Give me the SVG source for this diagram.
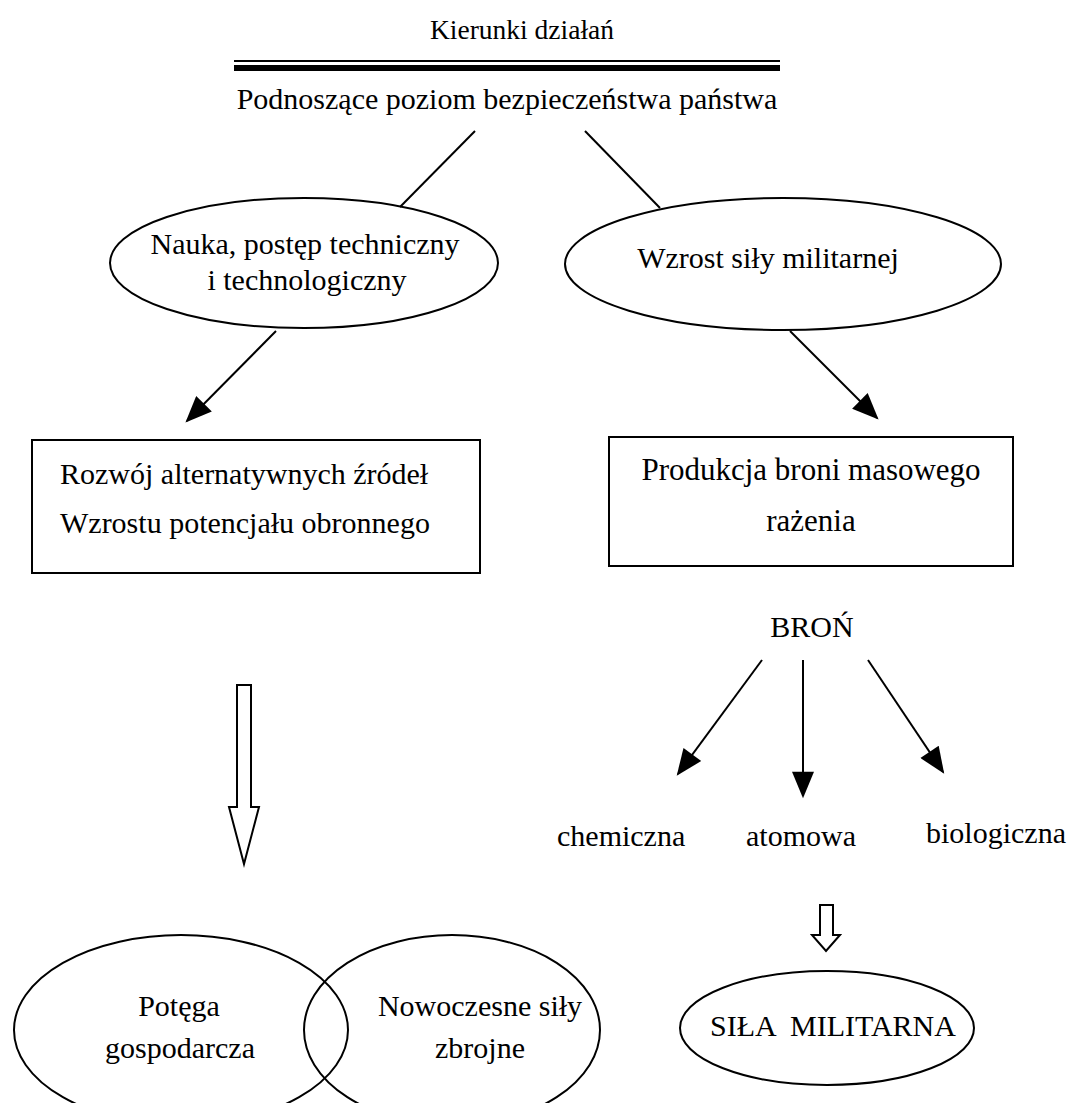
<svg xmlns="http://www.w3.org/2000/svg" width="1074" height="1103" viewBox="0 0 1074 1103">
  <style>
    text { font-family: "Liberation Serif", "Times New Roman", serif; fill: #000; font-size: 30px; }
    .mid { text-anchor: middle; }
    .shape { fill: none; stroke: #000; stroke-width: 2; }
    .conn { fill: none; stroke: #000; stroke-width: 2; }
    .hollow { fill: #fff; stroke: #000; stroke-width: 2; stroke-linejoin: miter; }
  </style>
  <defs>
    <marker id="head" viewBox="0 0 12 10" refX="11" refY="5" markerWidth="28" markerHeight="22" markerUnits="userSpaceOnUse" orient="auto">
      <path d="M0,0 L12,5 L0,10 Z" fill="#000"/>
    </marker>
  </defs>
  <rect width="1074" height="1103" fill="#fff"/>

  <!-- heading with double rule -->
  <g id="heading">
    <text class="mid" x="522" y="39" style="font-size:27.5px">Kierunki działań</text>
    <line x1="234" y1="61" x2="780" y2="61" stroke="#000" stroke-width="2"/>
    <line x1="234" y1="68" x2="780" y2="68" stroke="#000" stroke-width="6"/>
    <text class="mid" x="507" y="109">Podnoszące poziom bezpieczeństwa państwa</text>
  </g>

  <g id="node-nauka">
    <ellipse class="shape" cx="304" cy="263" rx="194" ry="65"/>
    <text class="mid" x="305" y="254">Nauka, postęp techniczny</text>
    <text class="mid" x="307" y="290">i technologiczny</text>
  </g>

  <g id="node-wzrost">
    <ellipse class="shape" cx="783" cy="264" rx="218" ry="66"/>
    <text class="mid" x="768" y="268">Wzrost siły militarnej</text>
  </g>

  <g id="node-rozwoj">
    <rect class="shape" x="32" y="440" width="448" height="133"/>
    <text x="60" y="484">Rozwój alternatywnych źródeł</text>
    <text x="60" y="533">Wzrostu potencjału obronnego</text>
  </g>

  <g id="node-produkcja">
    <rect class="shape" x="609" y="437" width="404" height="129"/>
    <text class="mid" x="811" y="480" style="font-size:31px">Produkcja broni masowego</text>
    <text class="mid" x="811" y="531" style="font-size:31px">rażenia</text>
  </g>

  <g id="node-bron">
    <text class="mid" x="812" y="637">BROŃ</text>
  </g>

  <g id="node-chemiczna"><text x="557" y="846">chemiczna</text></g>
  <g id="node-atomowa"><text x="746" y="846">atomowa</text></g>
  <g id="node-biologiczna"><text x="926" y="843">biologiczna</text></g>

  <g id="node-potega">
    <ellipse class="shape" cx="181" cy="1030" rx="167" ry="95"/>
    <text class="mid" x="179" y="1016">Potęga</text>
    <text class="mid" x="180" y="1058">gospodarcza</text>
  </g>

  <g id="node-sily">
    <ellipse class="shape" cx="452" cy="1030" rx="148" ry="95"/>
    <text class="mid" x="480" y="1016">Nowoczesne siły</text>
    <text class="mid" x="480" y="1058">zbrojne</text>
  </g>

  <g id="node-sila">
    <ellipse class="shape" cx="827" cy="1028" rx="147" ry="57"/>
    <text class="mid" x="833" y="1036" xml:space="preserve">SIŁA  MILITARNA</text>
  </g>

  <g id="connectors">
    <line class="conn" x1="475" y1="131" x2="400" y2="207"/>
    <line class="conn" x1="585" y1="131" x2="660" y2="208"/>
    <line class="conn" x1="276" y1="331" x2="187" y2="421" marker-end="url(#head)"/>
    <line class="conn" x1="790" y1="331" x2="877" y2="418" marker-end="url(#head)"/>
    <line class="conn" x1="762" y1="660" x2="678" y2="774" marker-end="url(#head)"/>
    <line class="conn" x1="803" y1="660" x2="803" y2="796" marker-end="url(#head)"/>
    <line class="conn" x1="868" y1="660" x2="943" y2="772" marker-end="url(#head)"/>
    <!-- block arrows drawn as outlined shapes -->
    <path class="hollow" d="M237,685 H251 V807 H259 L244,864 L229,807 H237 Z"/>
    <path class="hollow" d="M820,905 H833 V935 H840 L826,951 L812,935 H820 Z"/>
  </g>
</svg>
